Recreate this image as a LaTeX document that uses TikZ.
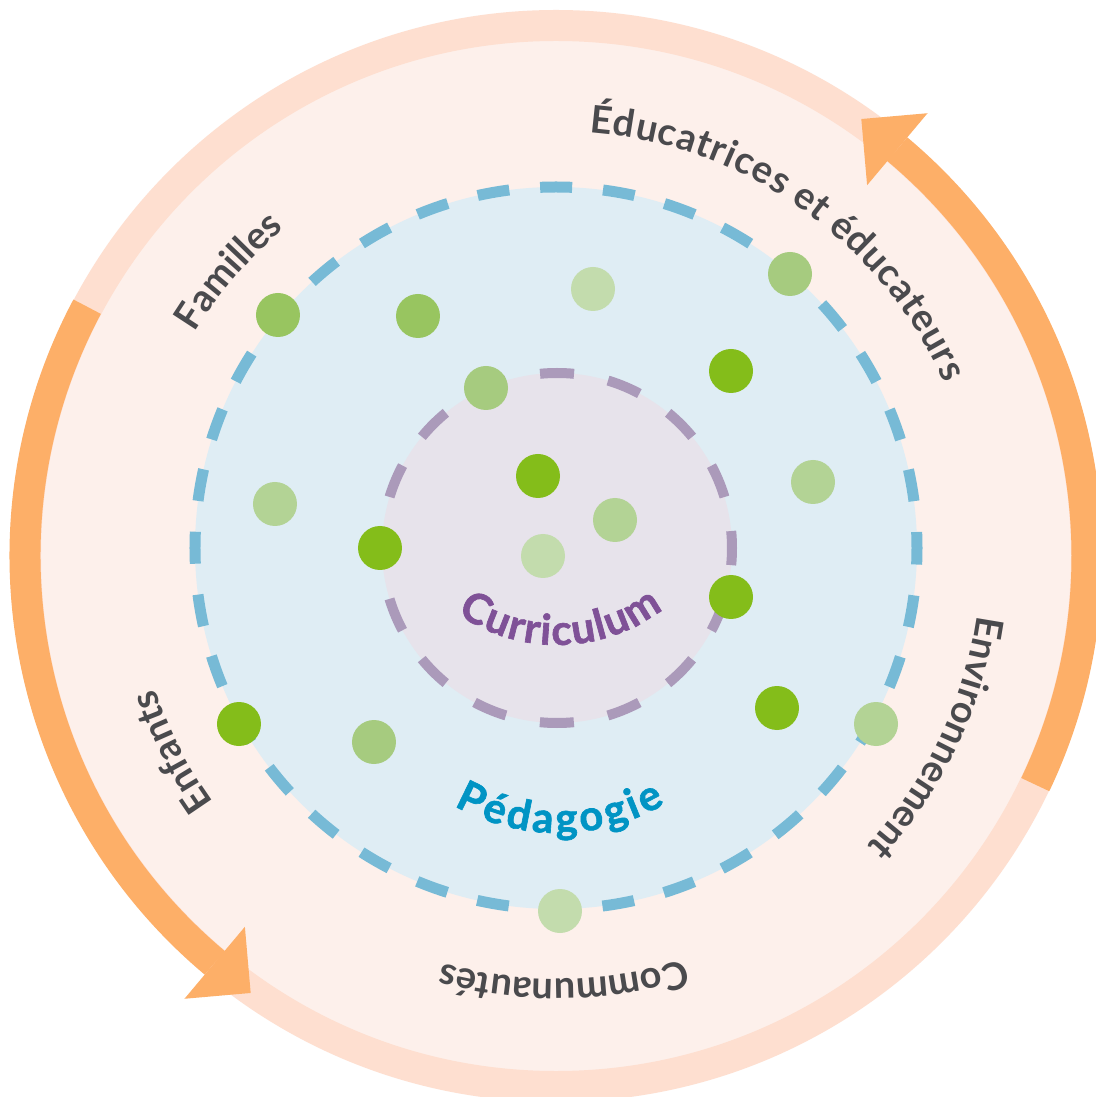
\documentclass[tikz,border=0pt]{standalone}
\usepackage{fontspec}
\setmainfont{Lato}
\newfontfamily\corefamily{Lato}[BoldFeatures={FakeBold=1.5}]
\usetikzlibrary{arrows.meta,decorations.text}

\definecolor{ringpeach}{HTML}{FEDFD0}
\definecolor{innerpeach}{HTML}{FDF0EB}
\definecolor{turnorange}{HTML}{FDAF68}
\definecolor{pedafill}{HTML}{DFEDF4}
\definecolor{pedadash}{HTML}{77BAD6}
\definecolor{currfill}{HTML}{E7E3EB}
\definecolor{currdash}{HTML}{AB9ABA}
\definecolor{labelgray}{HTML}{4A4A4D}
\definecolor{currpurple}{HTML}{7F5197}
\definecolor{pedablue}{HTML}{0094C4}
\definecolor{greenA}{HTML}{84BD1A}
\definecolor{greenB}{HTML}{98C560}
\definecolor{greenC}{HTML}{A6CB7F}
\definecolor{greenD}{HTML}{B3D395}
\definecolor{greenE}{HTML}{C3DCAD}

\newcommand\ringfont{\fontsize{38}{44}\selectfont\bfseries}
\newcommand\corefont{\corefamily\fontsize{42}{48}\selectfont\bfseries}

\tikzset{
  ring/.style={draw=ringpeach, line width=31pt},
  turn/.style={draw=turnorange, line width=31pt,
    -{Triangle[width=94pt,length=47pt,line width=0pt]}},
  pedazone/.style={fill=pedafill, draw=pedadash, line width=11pt,
    dash pattern=on 32pt off 31pt, dash phase=16pt},
  currzone/.style={fill=currfill, draw=currdash, line width=10pt,
    dash pattern=on 34pt off 34.72pt, dash phase=17pt},
  textarc/.style={decorate, decoration={text along path, text align=center}},
  ringtext/.style={textarc, decoration={text color=labelgray, text={|\ringfont|#1}}},
  currtext/.style={textarc, decoration={text color=currpurple, text align=fit to path, text={|\corefont|#1}}},
  pedatext/.style={textarc, decoration={text color=pedablue, text align=fit to path, text={|\corefont|#1}}},
}

\begin{document}
\begin{tikzpicture}[x=1pt,y=1pt]
  \useasboundingbox (-556,-541) rectangle (539,556);
  \fill[white] (-556,-541) rectangle (539,556);

  % outer ring
  \fill[innerpeach] (0,0) circle[radius=516];
  \draw[ring] (0,0) circle[radius=530.5];

  % turning arrows
  \draw[turn] (-25.5:531) arc[start angle=-25.5, end angle=50, radius=531] -- ++(140:47);
  \draw[turn] (152:531) arc[start angle=152, end angle=230, radius=531] -- ++(320:47);

  % labels on the ring
  \path[ringtext={Éducatrices et éducateurs}, decoration={text align=fit to path}] (85.5:425) arc[start angle=85.5, end angle=24, radius=425];
  \path[ringtext=Familles] (179:425) arc[start angle=179, end angle=99, radius=425];
  \path[ringtext=Enfants] (252:422) arc[start angle=252, end angle=162, radius=422];
  \path[ringtext=Communautés] (316:423) arc[start angle=316, end angle=226, radius=423];
  \path[ringtext=Environnement] (19.5:425) arc[start angle=19.5, end angle=-70.5, radius=425];

  %%%%
  \path[pedazone] (0,8) circle[radius=361];
  \path[currzone] (1,8) circle[radius=175];

  \path[currtext=Curriculum, shift={(1,85)}] (235:174) arc[start angle=235, end angle=307.5, radius=174];
  \path[pedatext=Pédagogie, shift={(2,-66)}] (240.5:211) arc[start angle=240.5, end angle=300.5, radius=211];

  % dots
  \fill[greenB] (-278,241) circle[radius=22];
  \fill[greenB] (-138,240) circle[radius=22];
  \fill[greenE] (37,267) circle[radius=22];
  \fill[greenC] (234,282) circle[radius=22];
  \fill[greenA] (175,185) circle[radius=22];
  \fill[greenC] (-70,168) circle[radius=22];
  \fill[greenA] (-18,80) circle[radius=22];
  \fill[greenD] (59,36) circle[radius=22];
  \fill[greenE] (-13,0) circle[radius=22];
  \fill[greenD] (-281,52) circle[radius=22];
  \fill[greenA] (-176,8) circle[radius=22];
  \fill[greenD] (257,74) circle[radius=22];
  \fill[greenA] (175,-41) circle[radius=22];
  \fill[greenA] (-317,-168) circle[radius=22];
  \fill[greenC] (-182,-186) circle[radius=22];
  \fill[greenA] (221,-152) circle[radius=22];
  \fill[greenD] (320,-168) circle[radius=22];
  \fill[greenE] (4,-355) circle[radius=22];
\end{tikzpicture}
\end{document}
